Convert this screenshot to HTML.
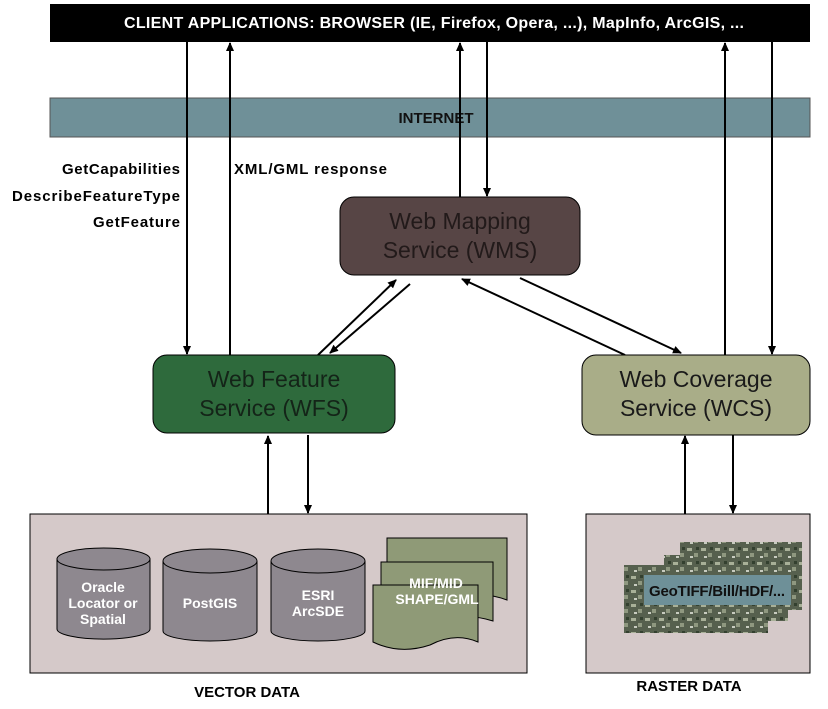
<!DOCTYPE html>
<html><head><meta charset="utf-8"><style>
html,body{margin:0;padding:0;background:#fff;}
svg{display:block;font-family:"Liberation Sans",sans-serif;}
</style></head><body>
<svg width="828" height="709" viewBox="0 0 828 709">
<defs>
<marker id="a" markerWidth="10" markerHeight="10" refX="8" refY="5" orient="auto" markerUnits="userSpaceOnUse">
<path d="M0,1 L9,5 L0,9 z" fill="#000"/></marker>
<pattern id="sat" width="14" height="14" patternUnits="userSpaceOnUse">
<rect width="14" height="14" fill="#56604e"/>
<rect x="1" y="2" width="5" height="3" fill="#a8b098"/><rect x="8" y="7" width="4" height="4" fill="#8f9880"/>
<rect x="4" y="10" width="3" height="2" fill="#c8ccc0"/><rect x="10" y="1" width="3" height="3" fill="#33402f"/>
</pattern>
</defs>
<rect x="50" y="4" width="760" height="38" fill="#000"/>
<text x="434" y="28" fill="#fff" font-size="16" font-weight="bold" text-anchor="middle" textLength="620">CLIENT APPLICATIONS: BROWSER (IE, Firefox, Opera, ...), MapInfo, ArcGIS, ...</text>
<rect x="50" y="98" width="760" height="39" fill="#6f9098" stroke="#555" stroke-width="1"/>
<text x="436" y="123" font-size="15" font-weight="bold" text-anchor="middle" fill="#111">INTERNET</text>
<g stroke="#000" stroke-width="2" fill="none">
<line x1="187" y1="42" x2="187" y2="354" marker-end="url(#a)"/>
<line x1="230" y1="355" x2="230" y2="43" marker-end="url(#a)"/>
<line x1="460" y1="197" x2="460" y2="43" marker-end="url(#a)"/>
<line x1="487" y1="42" x2="487" y2="196" marker-end="url(#a)"/>
<line x1="725" y1="355" x2="725" y2="43" marker-end="url(#a)"/>
<line x1="772" y1="42" x2="772" y2="354" marker-end="url(#a)"/>
<line x1="318" y1="355" x2="396" y2="280" marker-end="url(#a)"/>
<line x1="410" y1="284" x2="330" y2="353" marker-end="url(#a)"/>
<line x1="625" y1="355" x2="462" y2="279" marker-end="url(#a)"/>
<line x1="520" y1="278" x2="681" y2="353" marker-end="url(#a)"/>
<line x1="268" y1="515" x2="268" y2="436" marker-end="url(#a)"/>
<line x1="308" y1="435" x2="308" y2="513" marker-end="url(#a)"/>
<line x1="685" y1="515" x2="685" y2="436" marker-end="url(#a)"/>
<line x1="733" y1="435" x2="733" y2="513" marker-end="url(#a)"/>
</g>
<g font-size="15" font-weight="bold">
<text x="180" y="174" text-anchor="end" textLength="118">GetCapabilities</text>
<text x="180" y="201" text-anchor="end" textLength="168">DescribeFeatureType</text>
<text x="180" y="227" text-anchor="end" textLength="87">GetFeature</text>
<text x="234" y="174" textLength="153">XML/GML response</text>
</g>
<rect x="340" y="197" width="240" height="78" rx="14" fill="#574545" stroke="#000"/>
<text x="460" y="229" font-size="23" text-anchor="middle" fill="#221a1a">Web Mapping</text>
<text x="460" y="258" font-size="23" text-anchor="middle" fill="#221a1a">Service (WMS)</text>
<rect x="153" y="355" width="242" height="78" rx="14" fill="#2e6a3c" stroke="#000"/>
<text x="274" y="387" font-size="23" text-anchor="middle" fill="#142418">Web Feature</text>
<text x="274" y="416" font-size="23" text-anchor="middle" fill="#142418">Service (WFS)</text>
<rect x="582" y="355" width="228" height="80" rx="14" fill="#a9ad88" stroke="#000"/>
<text x="696" y="387" font-size="23" text-anchor="middle" fill="#1a1a1a">Web Coverage</text>
<text x="696" y="416" font-size="23" text-anchor="middle" fill="#1a1a1a">Service (WCS)</text>
<rect x="30" y="514" width="497" height="159" fill="#d5c9c9" stroke="#000"/>
<rect x="586" y="514" width="224" height="159" fill="#d5c9c9" stroke="#000"/>
<text x="247" y="697" font-size="15" font-weight="bold" text-anchor="middle">VECTOR DATA</text>
<text x="689" y="691" font-size="15" font-weight="bold" text-anchor="middle">RASTER DATA</text>
<g fill="#8e888f" stroke="#000" stroke-width="1">
<path d="M57,559 v70 a46,10 0 0 0 93,0 v-70"/><ellipse cx="103.5" cy="559" rx="46.5" ry="11"/>
<path d="M163,561 v70 a47,10 0 0 0 94,0 v-70"/><ellipse cx="210" cy="561" rx="47" ry="12"/>
<path d="M271,561 v70 a47,10 0 0 0 94,0 v-70"/><ellipse cx="318" cy="561" rx="47" ry="12"/>
</g>
<g fill="#fff" font-size="14" font-weight="bold" text-anchor="middle">
<text x="103" y="592">Oracle</text><text x="103" y="608">Locator or</text><text x="103" y="624">Spatial</text>
<text x="210" y="608">PostGIS</text>
<text x="318" y="600">ESRI</text><text x="318" y="616">ArcSDE</text>
</g>
<g fill="#8f9a77" stroke="#000" stroke-width="1">
<path d="M387,538 H507 V600 Q480,590 460,600 L387,600 z"/>
<path d="M381,562 H493 V621 Q465,612 440,622 L381,622 z"/>
<path d="M373,585 H478 V642 Q455,632 430,645 Q400,655 373,642 z"/>
</g>
<text x="436" y="588" fill="#fff" font-size="14" font-weight="bold" text-anchor="middle">MIF/MID</text>
<text x="437" y="604" fill="#fff" font-size="14" font-weight="bold" text-anchor="middle">SHAPE/GML</text>
<rect x="680" y="542" width="122" height="68" fill="url(#sat)"/>
<rect x="664" y="555" width="124" height="66" fill="url(#sat)"/>
<rect x="624" y="565" width="144" height="68" fill="url(#sat)"/>
<rect x="644" y="575" width="147" height="30" fill="#6e9098"/>
<text x="717" y="596" font-size="15" font-weight="bold" text-anchor="middle" fill="#111" textLength="136">GeoTIFF/Bill/HDF/...</text>
</svg>
</body></html>
